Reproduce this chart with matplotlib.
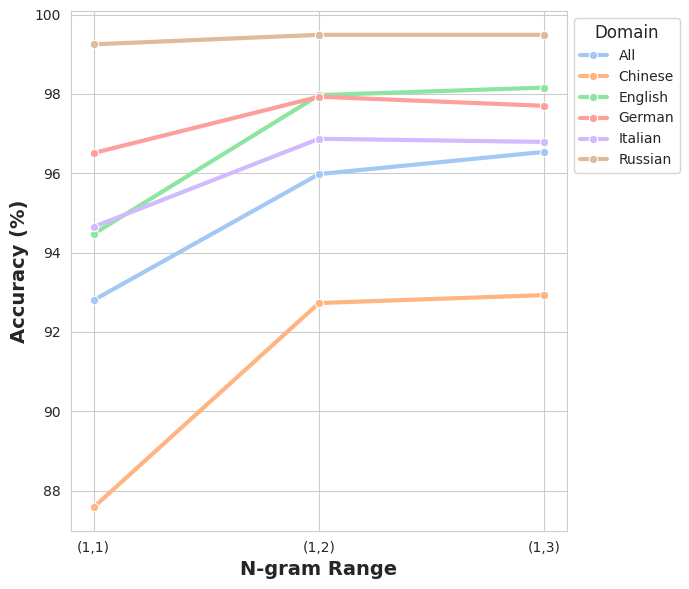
import matplotlib

matplotlib.use("Agg")
import matplotlib.pyplot as plt
import pandas as pd
import seaborn as sns

NGRAM_RANGES = ["(1,1)", "(1,2)", "(1,3)"]
DOMAINS = ["All", "Chinese", "English", "German", "Italian", "Russian"]

ACC_ALL = [92.80, 95.98, 96.54]
ACC_CHINESE = [87.58, 92.73, 92.93]
ACC_ENGLISH = [94.47, 97.97, 98.16]
ACC_GERMAN = [96.51, 97.93, 97.70]
ACC_ITALIAN = [94.65, 96.87, 96.79]
ACC_RUSSIAN = [99.25, 99.49, 99.49]


def build_frame() -> pd.DataFrame:
    series = [ACC_ALL, ACC_CHINESE, ACC_ENGLISH, ACC_GERMAN, ACC_ITALIAN, ACC_RUSSIAN]
    rows = []
    for domain, values in zip(DOMAINS, series, strict=True):
        for ngram, value in zip(NGRAM_RANGES, values, strict=True):
            rows.append({"N-gram Range": ngram, "Accuracy": value, "Domain": domain})
    return pd.DataFrame(rows)


def plot() -> None:
    sns.set_style("whitegrid")
    plt.rcParams["font.family"] = ["DejaVu Sans"]
    df = build_frame()

    fig, ax = plt.subplots(figsize=(6.89, 5.89), dpi=100)
    sns.lineplot(
        data=df,
        x="N-gram Range",
        y="Accuracy",
        hue="Domain",
        hue_order=DOMAINS,
        palette="pastel",
        marker="o",
        markersize=6,
        linewidth=3,
        ax=ax,
    )

    ax.set_xlabel("N-gram Range", fontsize=14, fontweight="bold")
    ax.set_ylabel("Accuracy (%)", fontsize=14, fontweight="bold")
    ax.tick_params(axis="both", labelsize=10)

    ax.legend(
        title="Domain",
        loc="upper left",
        bbox_to_anchor=(1.0, 1.0),
        fontsize=10,
        title_fontsize=12,
    )

    fig.subplots_adjust(left=0.103, right=0.823, top=0.981, bottom=0.0985)
    fig.savefig("out.png", dpi=100)
    plt.close(fig)


if __name__ == "__main__":
    plot()
